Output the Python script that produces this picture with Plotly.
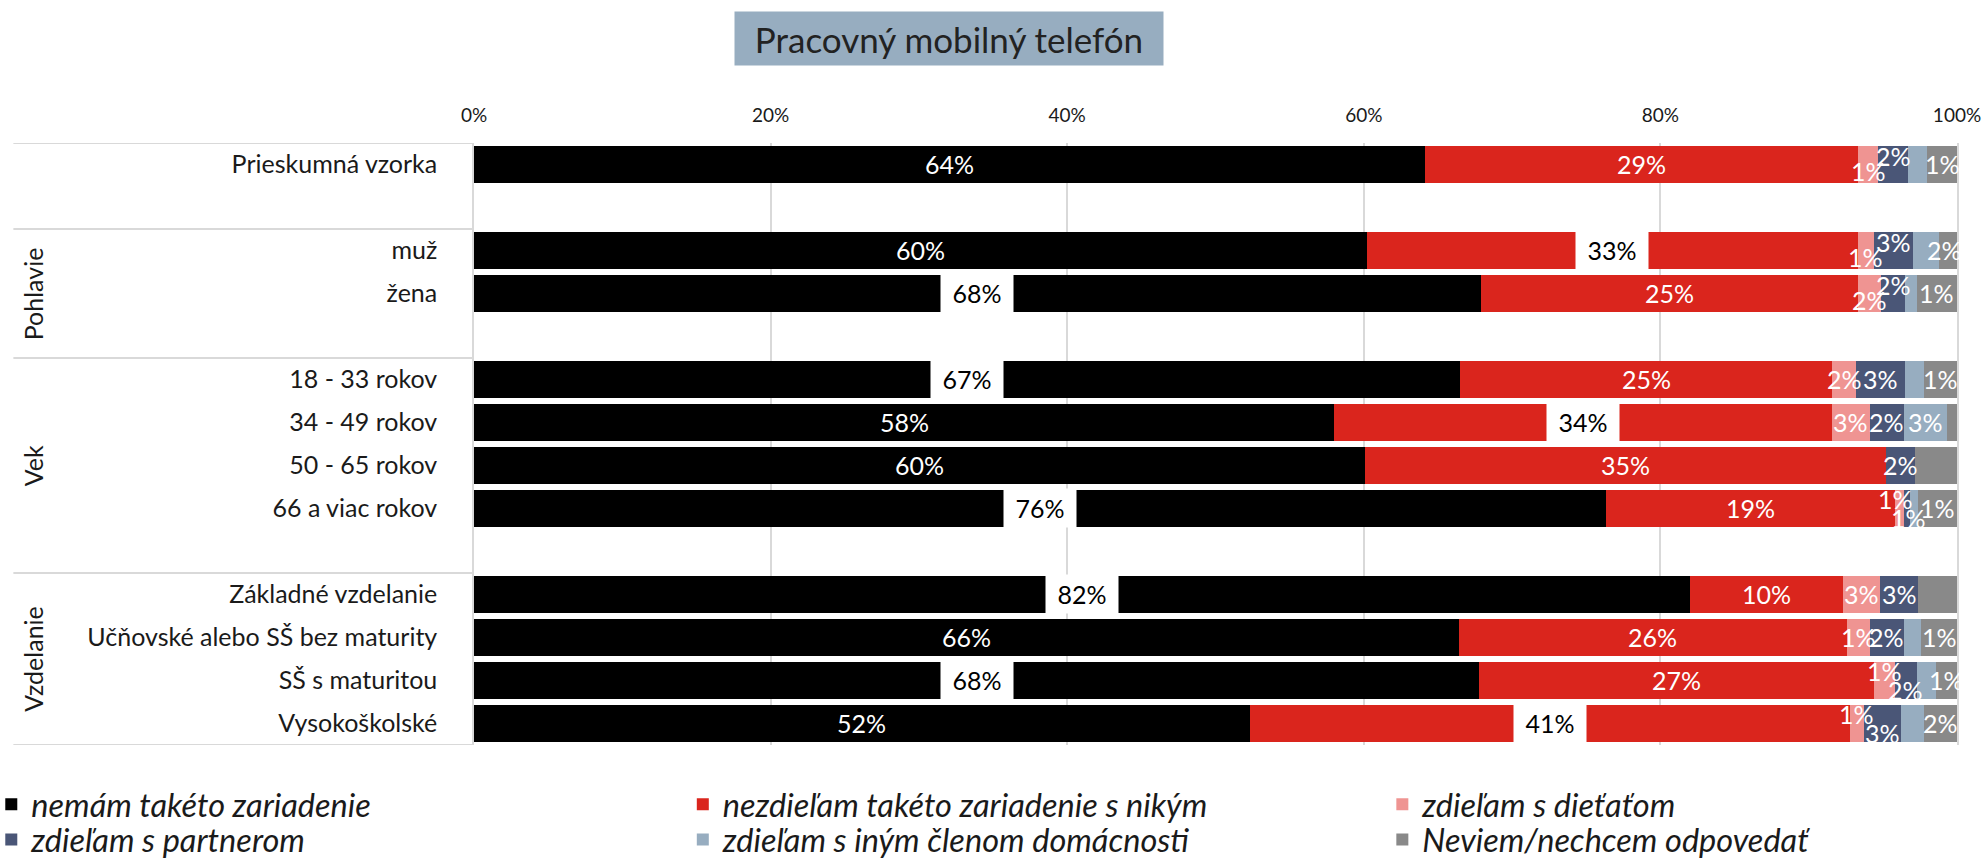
import plotly.graph_objects as go

# ---------------- data ----------------
rows = ["Prieskumná vzorka", "muž", "žena", "18 - 33 rokov", "34 - 49 rokov",
        "50 - 65 rokov", "66 a viac rokov", "Základné vzdelanie",
        "Učňovské alebo SŠ bez maturity", "SŠ s maturitou", "Vysokoškolské"]
row_group = ["", "Pohlavie", "Pohlavie", "Vek", "Vek", "Vek", "Vek",
             "Vzdelanie", "Vzdelanie", "Vzdelanie", "Vzdelanie"]

series = ["nemám takéto zariadenie", "nezdieľam takéto zariadenie s nikým",
          "zdieľam s dieťaťom", "zdieľam s partnerom",
          "zdieľam s iným členom domácnosti", "Neviem/nechcem odpovedať"]

nemam     = [64.1, 60.2, 67.9, 66.5, 58.0, 60.1, 76.3, 82.0, 66.4, 67.8, 52.3]
nezdielam = [29.2, 33.1, 25.4, 25.1, 33.6, 35.1, 19.5, 10.3, 26.2, 26.6, 40.5]
dieta     = [1.4, 1.1, 1.6, 1.6, 2.5, 0.0, 0.6, 2.5, 1.5, 1.4, 0.9]
partner   = [2.0, 2.6, 1.6, 3.3, 2.3, 2.0, 0.4, 2.6, 2.3, 1.5, 2.5]
iny       = [1.3, 1.8, 0.8, 1.3, 2.9, 0.0, 0.6, 0.0, 1.2, 1.3, 1.6]
neviem    = [2.0, 1.2, 2.7, 2.2, 0.7, 2.8, 2.6, 2.6, 2.4, 1.4, 2.2]

lbl_nemam     = ["64%", "60%", "68%", "67%", "58%", "60%", "76%", "82%", "66%", "68%", "52%"]
lbl_nezdielam = ["29%", "33%", "25%", "25%", "34%", "35%", "19%", "10%", "26%", "27%", "41%"]
lbl_dieta     = ["1%", "1%", "2%", "2%", "3%", "", "1%", "3%", "1%", "1%", "1%"]
lbl_partner   = ["2%", "3%", "2%", "3%", "2%", "2%", "1%", "3%", "2%", "2%", "3%"]
lbl_iny       = ["", "", "", "", "3%", "", "", "", "", "", ""]
lbl_neviem    = ["1%", "2%", "1%", "1%", "", "", "1%", "", "1%", "1%", "2%"]

ticks = [0, 20, 40, 60, 80, 100]
tick_labels = ["0%", "20%", "40%", "60%", "80%", "100%"]

title_text = "Pracovný mobilný telefón"

# ---------------- styles ----------------
colors = ["#000000", "#DA251D", "#EF9492", "#4A5677", "#97ADC0", "#898989"]
values = [nemam, nezdielam, dieta, partner, iny, neviem]
labels = [lbl_nemam, lbl_nezdielam, lbl_dieta, lbl_partner, lbl_iny, lbl_neviem]
boxed = {(0, 2), (0, 3), (0, 6), (0, 7), (0, 9), (1, 1), (1, 4), (1, 10)}
# pixel offsets downward (positive = lower on screen)
drop = {(2, 0): 7, (2, 1): 7, (2, 2): 7, (3, 0): -8, (3, 1): -8, (3, 2): -8,
        (2, 6): -9, (2, 9): -9, (2, 10): -9, (3, 6): 10, (3, 9): 10, (3, 10): 10}
xshift = {(5, 1): -4, (2, 6): -4, (3, 6): 2}
FONT = "Lato, 'Noto Sans', sans-serif"
GRID = "#D9D9D9"
TXT = "#1a1a1a"

# slot positions: one blank slot between groups
slots = []
pos = 0
for i, g in enumerate(row_group):
    if i > 0 and g != row_group[i - 1]:
        pos += 1
    slots.append(pos)
    pos += 1
n_slots = pos

fig = go.Figure()
legend_ids = ["legend", "legend2", "legend3", "legend4", "legend5", "legend6"]
for s, name in enumerate(series):
    fig.add_trace(go.Bar(
        y=slots, x=values[s], name=name, orientation="h",
        marker=dict(color=colors[s], line=dict(width=0)),
        width=0.84, hoverinfo="skip", legend=legend_ids[s],
    ))

annotations = []
for r in range(len(rows)):
    cum = 0.0
    for s in range(len(series)):
        v = values[s][r]
        t = labels[s][r]
        if t:
            a = dict(x=cum + v / 2, y=slots[r], xref="x", yref="y", text=t,
                     showarrow=False, yshift=1 - drop.get((s, r), 0),
                     xshift=xshift.get((s, r), 0),
                     font=dict(family=FONT, size=25, color="white"))
            if (s, r) in boxed:
                a.update(bgcolor="white", width=72, height=38, borderpad=0,
                         font=dict(family=FONT, size=25, color="black"))
            annotations.append(a)
        cum += v

# group labels (rotated) and separator lines
groups = []
for i, g in enumerate(row_group):
    if g and (not groups or groups[-1][0] != g):
        groups.append([g, i, i])
    elif g:
        groups[-1][2] = i
sep_y = [-0.5]
for g, i0, i1 in groups:
    top = slots[i0] - 0.5
    sep_y.append(top)
    nxt = [slots[k] for k in range(len(rows)) if k > i1]
    bottom = (nxt[0] - 0.5) if nxt else n_slots - 0.5
    annotations.append(dict(x=-0.2975, y=(top + bottom) / 2, xref="paper", yref="y",
                            text=g, textangle=-90, showarrow=False,
                            xanchor="center", yanchor="middle",
                            font=dict(family=FONT, size=25, color=TXT)))
sep_y.append(n_slots - 0.5)

annotations.append(dict(x=0.32, y=1.1736, xref="paper", yref="paper", text=title_text,
                        showarrow=False, xanchor="center", yanchor="middle",
                        bgcolor="#97ADC0", width=428, height=53, borderpad=0,
                        font=dict(family=FONT, size=35, color="#222222")))

shapes = [dict(type="line", xref="paper", yref="y", x0=-0.3106, x1=0, y0=yv, y1=yv,
               line=dict(color=GRID, width=2)) for yv in sep_y]

legend_font = dict(family=FONT, size=32.5, color=TXT, style="italic")
leg_x = [-0.3255, 0.1408, 0.6125]
leg_y = [-0.0527, -0.111]
legends = {}
for k, lid in enumerate(legend_ids):
    legends[lid] = dict(orientation="h", x=leg_x[k % 3], y=leg_y[k // 3],
                        xanchor="left", yanchor="top", bgcolor="rgba(0,0,0,0)",
                        font=legend_font)

fig.update_layout(
    width=1984, height=861,
    margin=dict(l=474, r=27, t=143, b=116, autoexpand=False),
    barmode="stack", bargap=0.16,
    plot_bgcolor="white", paper_bgcolor="white",
    font=dict(family=FONT, color=TXT),
    annotations=annotations, shapes=shapes,
    showlegend=True,
    xaxis=dict(side="top", range=[0, 100], tickmode="array", tickvals=ticks,
               ticktext=tick_labels, showgrid=True, gridcolor=GRID, gridwidth=1.5,
               zeroline=False, showline=False, ticks="", ticklabelstandoff=16,
               tickfont=dict(family=FONT, size=19, color=TXT)),
    yaxis=dict(range=[n_slots - 0.5, -0.5], tickmode="array", tickvals=slots,
               ticktext=rows, showgrid=False, zeroline=False,
               showline=True, mirror=True, linecolor=GRID, linewidth=1.5,
               ticks="", ticklabelstandoff=30,
               tickfont=dict(family=FONT, size=25, color=TXT)),
    **legends,
)

fig.write_html("out.html", config={"displayModeBar": False},
               post_script="document.body.style.margin='0';")
